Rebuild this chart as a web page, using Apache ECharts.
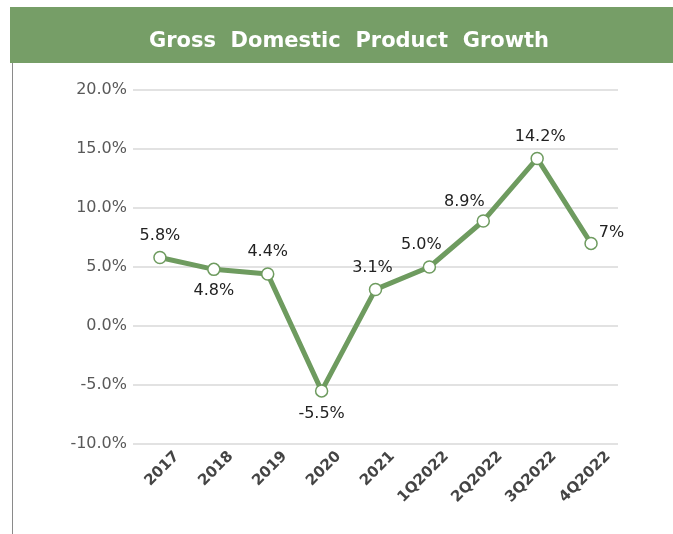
<!DOCTYPE html>
<html>
<head>
<meta charset="utf-8">
<script src="https://cdn.jsdelivr.net/npm/echarts@6/dist/echarts.min.js"></script>
<style>
html,body{margin:0;padding:0;background:#fff;}
#c{width:673px;height:534px;}
</style>
</head>
<body>
<div id="c"></div>
<script>
var titleText = 'Gross  Domestic  Product  Growth';
var categories = ['2017','2018','2019','2020','2021','1Q2022','2Q2022','3Q2022','4Q2022'];
var growth = [5.8, 4.8, 4.4, -5.5, 3.1, 5.0, 8.9, 14.2, 7];
var valueLabels = ['5.8%','4.8%','4.4%','-5.5%','3.1%','5.0%','8.9%','14.2%','7%'];
var yTicks = [-10, -5, 0, 5, 10, 15, 20];

var labelPos = [
  {position:'top', offset:[0,-1]},
  {position:'bottom', offset:[0,1]},
  {position:'top', offset:[0,-1]},
  {position:'bottom', offset:[0,2]},
  {position:'top', offset:[-3,-1]},
  {position:'top', offset:[-8,-1]},
  {position:'top', offset:[-19,2]},
  {position:'top', offset:[3,-1]},
  {position:'right', offset:[-5,-11]}
];

var font = '"DejaVu Sans", sans-serif';
var chart = echarts.init(document.getElementById('c'));
var data = growth.map(function(v,i){
  return {
    value: v,
    label: Object.assign({show:true, formatter: valueLabels[i]}, labelPos[i])
  };
});

chart.setOption({
  animation:false,
  graphic:[
    {type:'rect', shape:{x:10,y:7,width:663,height:56}, style:{fill:'#769e67'}, z:0},
    {type:'line', shape:{x1:12.5,y1:63,x2:12.5,y2:534}, style:{stroke:'#8a8a8a',lineWidth:1}}
  ],
  title:{
    text:titleText,
    left:344, top:26, textAlign:'center',
    textStyle:{color:'#ffffff', fontSize:21, fontWeight:'bold', fontFamily:font}
  },
  grid:{left:133, right:55, top:90, bottom:90, containLabel:false},
  xAxis:{
    type:'category',
    data:categories,
    boundaryGap:true,
    axisLine:{show:false},
    axisTick:{show:false},
    axisLabel:{rotate:45, fontSize:15, fontWeight:'bold', color:'#444444', fontFamily:font,
      margin:27, interval:0, align:'right', padding:[0,-24,0,0]}
  },
  yAxis:{
    type:'value',
    min:-10, max:20, interval:5,
    axisLine:{show:false},
    axisTick:{show:false},
    splitLine:{lineStyle:{color:'#d9d9d9', width:1.5}},
    axisLabel:{fontSize:16, color:'#595959', fontFamily:font, margin:6,
      formatter:function(v){return v.toFixed(1)+'%';}}
  },
  series:[{
    type:'line',
    data:data,
    symbol:'circle',
    symbolSize:12,
    itemStyle:{color:'#ffffff', borderColor:'#6e9b5f', borderWidth:1.5},
    lineStyle:{color:'#6e9b5f', width:5},
    label:{color:'#222222', fontSize:16, fontFamily:font, distance:6}
  }]
});
</script>
</body>
</html>
